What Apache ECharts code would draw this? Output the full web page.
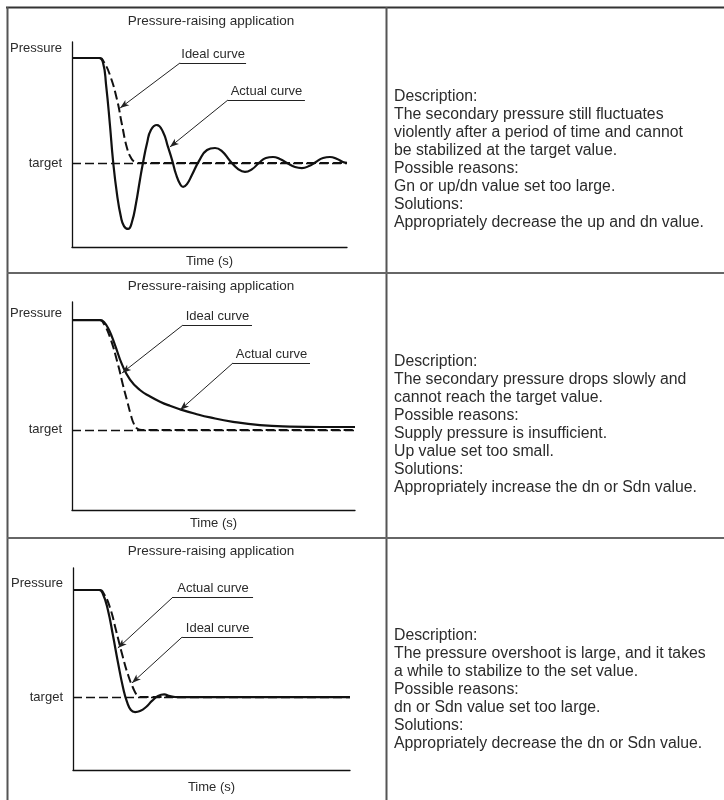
<!DOCTYPE html>
<html>
<head>
<meta charset="utf-8">
<script src="https://cdn.jsdelivr.net/npm/echarts@6/dist/echarts.min.js"></script>
<style>
html,body{margin:0;padding:0;background:#fff;}
#c{width:724px;height:800px;}
</style>
</head>
<body>
<div id="c"></div>
<script>
// ---------- DATA ----------
const panelTitle = 'Pressure-raising application';
const yName = 'Pressure';
const xName = 'Time (s)';
const targetName = 'target';

// Panel 1: violent oscillation
const p1IdealTime = [0, 10.2, 11.6, 13.8, 16.4, 18.2, 20.0, 21.5, 22.9, 24.7, 100];
const p1IdealPressure = [92.2, 92.2, 90.2, 83.9, 71.7, 59.5, 48.3, 43.4, 41.5, 41.0, 41.0];
const p1ActualTime = [0, 9.8, 11.3, 12.4, 13.8, 14.9, 16.4, 17.8, 18.9, 20.4, 21.8, 23.3, 24.7, 25.8, 27.3, 28.7, 30.9, 33.1, 34.9, 36.4, 37.8, 39.3, 40.4, 41.8, 43.6, 46.2, 49.1, 52.0, 54.5, 57.5, 60.4, 62.9, 65.5, 68.0, 70.5, 73.1, 75.6, 78.2, 81.1, 83.6, 86.2, 88.7, 91.3, 93.8, 96.4, 98.5, 100];
const p1ActualPressure = [92.2, 92.2, 89.8, 79.0, 59.5, 42.4, 25.4, 14.6, 10.2, 8.8, 12.2, 21.5, 32.7, 41.0, 50.7, 57.1, 59.5, 56.1, 48.8, 42.4, 35.6, 30.7, 29.3, 30.7, 35.1, 42.0, 47.3, 48.3, 46.8, 42.0, 38.0, 36.6, 38.0, 41.0, 43.4, 43.9, 42.9, 41.0, 39.0, 38.5, 39.5, 41.5, 43.4, 43.9, 42.9, 41.5, 41.0];
const p1Target = 41.0;

// Panel 2: slow drop, does not reach target
const p2IdealTime = [0, 9.9, 11.3, 13.4, 16.3, 18.0, 19.4, 20.8, 21.9, 23.3, 24.7, 100];
const p2IdealPressure = [91.3, 91.3, 89.4, 83.2, 69.7, 60.1, 52.9, 45.7, 41.3, 38.9, 38.5, 38.5];
const p2ActualTime = [0, 9.9, 11.3, 13.1, 15.2, 17.7, 20.5, 24.0, 27.6, 31.1, 34.6, 38.2, 43.5, 48.8, 56.9, 66.4, 77.0, 88.0, 100];
const p2ActualPressure = [91.3, 91.3, 90.4, 86.5, 79.3, 69.9, 62.7, 57.7, 54.6, 52.1, 50.1, 48.4, 46.3, 44.5, 42.4, 40.8, 40.1, 39.9, 39.9];
const p2Target = 38.5;

// Panel 3: overshoot
const p3IdealTime = [0, 9.7, 11.2, 13.4, 15.5, 18.0, 19.9, 21.7, 23.1, 24.5, 100];
const p3IdealPressure = [89.1, 89.1, 87.1, 80.2, 69.3, 55.9, 47.0, 40.6, 37.1, 36.1, 36.1];
const p3ActualTime = [0, 9.4, 10.8, 12.6, 14.4, 16.2, 18.1, 19.5, 20.9, 22.4, 24.2, 26.4, 28.5, 30.7, 32.9, 35.0, 37.9, 100];
const p3ActualPressure = [89.1, 89.1, 87.1, 79.2, 66.8, 53.5, 40.6, 33.7, 29.7, 28.7, 29.2, 31.2, 34.2, 36.6, 37.4, 36.6, 36.1, 36.1];
const p3Target = 36.1;

const descTexts = [
  ['Description:', 'The secondary pressure still fluctuates', 'violently after a period of time and cannot', 'be stabilized at the target value.', 'Possible reasons:', 'Gn or up/dn value set too large.', 'Solutions:', 'Appropriately decrease the up and dn value.'],
  ['Description:', 'The secondary pressure drops slowly and', 'cannot reach the target value.', 'Possible reasons:', 'Supply pressure is insufficient.', 'Up value set too small.', 'Solutions:', 'Appropriately increase the dn or Sdn value.'],
  ['Description:', 'The pressure overshoot is large, and it takes', 'a while to stabilize to the set value.', 'Possible reasons:', 'dn or Sdn value set too large.', 'Solutions:', 'Appropriately decrease the dn or Sdn value.']
];

// ---------- LAYOUT / STYLE ----------
const FONT = '"Liberation Sans", Arial, sans-serif';
const INK = '#111';
const TXT = '#2b2b2b';

const panels = [
  { idealT: p1IdealTime, idealP: p1IdealPressure, actualT: p1ActualTime, actualP: p1ActualPressure, target: p1Target,
    grid: { left: 72, top: 42, width: 275, height: 205 }, yGap: -6, xGap: 8, titleY: 21, descY: 160,
    notes: [
      { text: 'Ideal curve', from: [39.3, 89.8], to: [63.3, 89.8], tip: [17.5, 67.8] },
      { text: 'Actual curve', from: [56.7, 71.7], to: [84.7, 71.7], tip: [35.6, 48.8] }
    ] },
  { idealT: p2IdealTime, idealP: p2IdealPressure, actualT: p2ActualTime, actualP: p2ActualPressure, target: p2Target,
    grid: { left: 72, top: 302, width: 283, height: 208 }, yGap: -11, xGap: 7, titleY: 286, descY: 425,
    notes: [
      { text: 'Ideal curve', from: [39.2, 88.9], to: [63.6, 88.9], tip: [17.7, 65.9] },
      { text: 'Actual curve', from: [56.9, 70.7], to: [84.1, 70.7], tip: [38.2, 48.1] }
    ] },
  { idealT: p3IdealTime, idealP: p3IdealPressure, actualT: p3ActualTime, actualP: p3ActualPressure, target: p3Target,
    grid: { left: 73, top: 568, width: 277, height: 202 }, yGap: -15, xGap: 11, titleY: 551, descY: 690,
    notes: [
      { text: 'Actual curve', from: [36.1, 85.6], to: [65.0, 85.6], tip: [16.2, 60.4] },
      { text: 'Ideal curve', from: [39.4, 65.8], to: [65.0, 65.8], tip: [21.3, 43.1] }
    ] }
];

const zip = (a, b) => a.map((v, i) => [v, b[i]]);

const grids = [], xAxes = [], yAxes = [], series = [], graphics = [];

panels.forEach((p, i) => {
  grids.push(Object.assign({}, p.grid));
  xAxes.push({
    type: 'value', gridIndex: i, min: 0, max: 100,
    axisLine: { show: true, onZero: false, lineStyle: { color: INK, width: 1.3 } },
    axisTick: { show: false }, axisLabel: { show: false }, splitLine: { show: false },
    name: xName, nameLocation: 'middle', nameGap: p.xGap,
    nameTextStyle: { fontFamily: FONT, fontSize: 13, color: TXT, verticalAlign: 'top' }
  });
  yAxes.push({
    type: 'value', gridIndex: i, min: 0, max: 100,
    axisLine: { show: true, onZero: false, lineStyle: { color: INK, width: 1.3 } },
    axisTick: { show: false }, axisLabel: { show: false }, splitLine: { show: false },
    name: yName, nameLocation: 'end', nameGap: p.yGap,
    nameTextStyle: { fontFamily: FONT, fontSize: 13, color: TXT, align: 'right', verticalAlign: 'middle', padding: [0, 10, 0, 0] }
  });

  const markData = [
    { yAxis: p.target, lineStyle: { type: [9, 4], width: 1.3, color: INK },
      label: { show: true, position: 'start', formatter: targetName, distance: 10, fontFamily: FONT, fontSize: 13, color: TXT } }
  ];
  p.notes.forEach(n => {
    markData.push([
      { coord: n.from, symbol: 'none', lineStyle: { type: 'solid', width: 1, color: '#222' },
        label: { show: true, position: 'insideMiddleTop', distance: 2, formatter: n.text, fontFamily: FONT, fontSize: 13, color: TXT } },
      { coord: n.to, symbol: 'none' }
    ]);
    markData.push([
      { coord: n.from, symbol: 'none', lineStyle: { type: 'solid', width: 1, color: '#222' }, label: { show: false } },
      { coord: n.tip, symbol: 'arrow', symbolSize: [5, 9] }
    ]);
  });

  series.push({
    type: 'line', xAxisIndex: i, yAxisIndex: i, name: 'Ideal curve',
    data: zip(p.idealT, p.idealP), smooth: 0.5, showSymbol: false, symbol: 'none',
    lineStyle: { color: INK, width: 2, type: [9, 4] }, z: 3,
    markLine: { silent: true, symbol: ['none', 'none'], animation: false, label: { show: false }, data: markData }
  });
  series.push({
    type: 'line', xAxisIndex: i, yAxisIndex: i, name: 'Actual curve',
    data: zip(p.actualT, p.actualP), smooth: 0.5, showSymbol: false, symbol: 'none',
    lineStyle: { color: INK, width: 2.2 }, z: 4
  });

  graphics.push({
    type: 'text', x: 211, y: p.titleY,
    style: { text: panelTitle, fontFamily: FONT, fontSize: 13.5, fill: TXT, align: 'center', verticalAlign: 'middle' }
  });
  graphics.push({
    type: 'text', x: 394, y: p.descY,
    style: { text: descTexts[i].join('\n'), fontFamily: FONT, fontSize: 15.8, lineHeight: 18, fill: TXT, align: 'left', verticalAlign: 'middle' }
  });
});

// table rules
const rule = (x1, y1, x2, y2, w, c) => ({ type: 'line', shape: { x1, y1, x2, y2 }, style: { stroke: c, lineWidth: w }, silent: true });
graphics.push(rule(6, 7.5, 724, 7.5, 2, '#333'));
graphics.push(rule(7.5, 7, 7.5, 800, 2, '#555'));
graphics.push(rule(386.5, 7, 386.5, 800, 2, '#555'));
graphics.push(rule(7, 273, 724, 273, 2, '#666'));
graphics.push(rule(7, 538, 724, 538, 2, '#666'));

const chart = echarts.init(document.getElementById('c'), null, { renderer: 'canvas' });
chart.setOption({
  backgroundColor: '#fff',
  animation: false,
  grid: grids, xAxis: xAxes, yAxis: yAxes, series: series,
  graphic: graphics
});
</script>
</body>
</html>
